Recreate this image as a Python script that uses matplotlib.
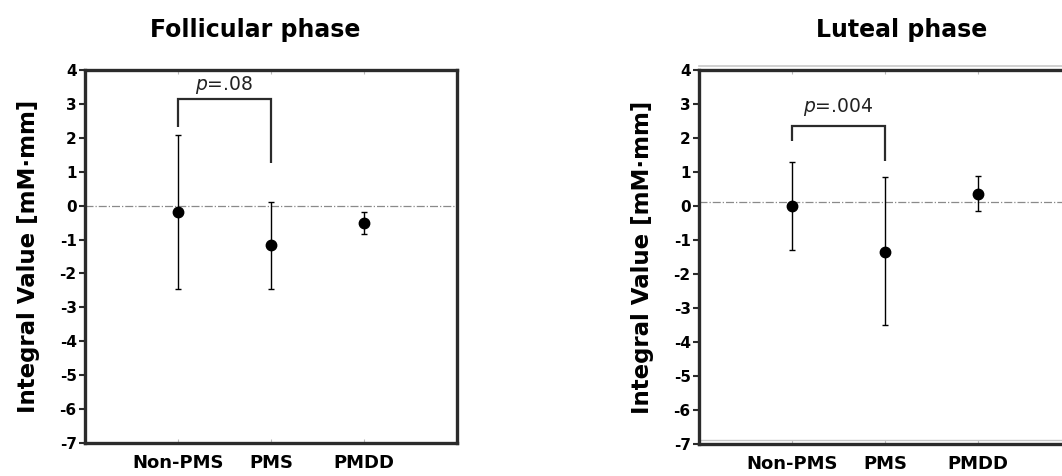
import numpy as np
import matplotlib.pyplot as plt

# ---------------- data ----------------
groups = ['Non-PMS', 'PMS', 'PMDD']
yticks = [4, 3, 2, 1, 0, -1, -2, -3, -4, -5, -6, -7]

fol_mean = [-0.20, -1.16, -0.52]
fol_upper = [2.07, 0.12, -0.18]
fol_lower = [-2.46, -2.46, -0.85]
fol_ref = 0.0
fol_bracket = [3.14, 2.31, 1.25]   # top, left leg end, right leg end
fol_ptext = '.08'

lut_mean = [0.00, -1.34, 0.36]
lut_upper = [1.29, 0.85, 0.89]
lut_lower = [-1.29, -3.49, -0.16]
lut_ref = 0.11
lut_bracket = [2.34, 1.90, 1.32]
lut_ptext = '.004'

spine_col = '#2b2b2b'

fig = plt.figure(figsize=(10.62, 4.76), dpi=100)


def panel(ax, mean, upper, lower, ref, bracket, ptext, ptext_y):
  x = np.arange(1, len(groups) + 1)
  mean = np.array(mean)
  yerr = [mean - np.array(lower), np.array(upper) - mean]
  ax.axhline(ref, color='#8a8a8a', lw=0.9, ls='-.', zorder=1)
  ax.errorbar(x, mean, yerr=yerr, fmt='o', color='black', ms=7.5,
              elinewidth=1.0, capsize=2.5, capthick=1.0, zorder=3)
  # significance bracket
  top, l_end, r_end = bracket
  ax.plot([1, 1, 2, 2], [l_end, top, top, r_end], color=spine_col,
          lw=1.6, solid_capstyle='butt', solid_joinstyle='miter', zorder=2)
  ax.text(1.5, ptext_y, '$p$=' + ptext, ha='center', va='center',
          fontsize=13.5, color='#222222')
  ax.set_xlim(0, 4)
  ax.set_ylim(-7, 4)
  ax.set_yticks(yticks)
  ax.set_yticklabels([str(t) for t in yticks], fontsize=11, fontweight='bold')
  ax.set_xticks(x)
  ax.set_xticklabels(groups, fontsize=13, fontweight='bold')
  ax.tick_params(axis='x', direction='in', length=3, width=0.8,
                 color='#bbbbbb', pad=8, top=True)
  ax.tick_params(axis='y', direction='out', length=4, width=1.5,
                 color=spine_col, pad=2)
  for s in ax.spines.values():
    s.set_linewidth(2.4)
    s.set_color(spine_col)
  ax.set_ylabel('Integral Value [mM·mm]', fontsize=16.5, fontweight='bold',
                labelpad=14)


ax1 = fig.add_axes([85 / 1062, 1 - 443 / 476, 372 / 1062, 373 / 476])
panel(ax1, fol_mean, fol_upper, fol_lower, fol_ref, fol_bracket, fol_ptext, 3.55)

ax2 = fig.add_axes([699 / 1062, 1 - 444 / 476, 372 / 1062, 374 / 476])
panel(ax2, lut_mean, lut_upper, lut_lower, lut_ref, lut_bracket, lut_ptext, 2.92)
# faint double border lines seen in the luteal panel
ax2.axhline(4.13, color='#c8c8c8', lw=1.2, clip_on=False)
ax2.axhline(-6.88, color='#c8c8c8', lw=1.0)

fig.text(255 / 1062, 1 - 30 / 476, 'Follicular phase', ha='center', va='center',
         fontsize=17, fontweight='bold')
fig.text(902 / 1062, 1 - 30 / 476, 'Luteal phase', ha='center', va='center',
         fontsize=17, fontweight='bold')

fig.savefig('out.png', dpi=100)
